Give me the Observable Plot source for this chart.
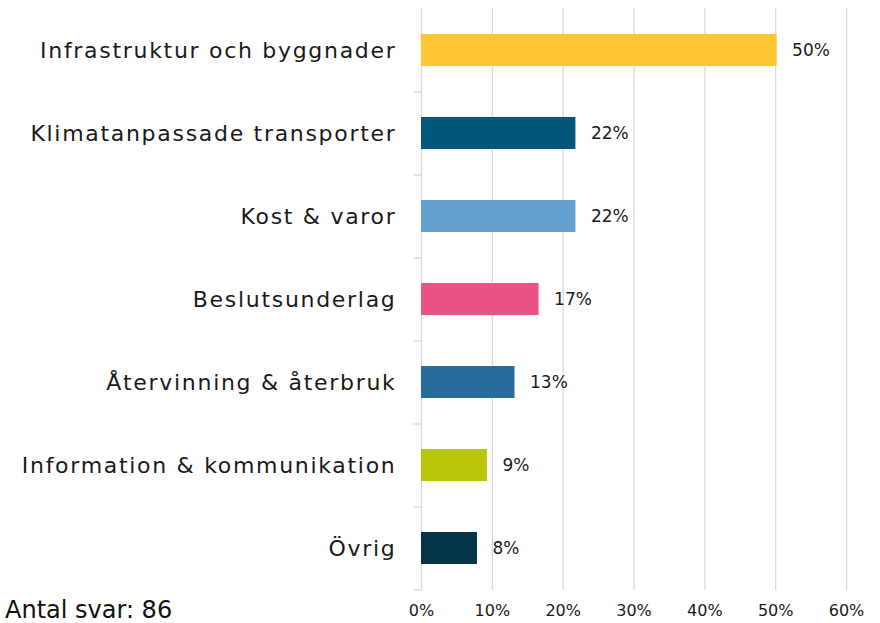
<!DOCTYPE html>
<html>
<head>
<meta charset="utf-8">
<script src="https://cdn.jsdelivr.net/npm/d3@7"></script>
<script src="https://cdn.jsdelivr.net/npm/@observablehq/plot@0.6"></script>
<style>
  html, body { margin: 0; padding: 0; background: #fff; }
  #wrap { position: relative; width: 880px; height: 623px; }
  #caption { position: absolute; left: 5px; top: 596px; font-family: "DejaVu Sans", sans-serif; font-size: 24px; color: #111; }
</style>
</head>
<body>
<div id="wrap">
  <div id="chart"></div>
  <div id="caption">Antal svar: 86</div>
</div>
<script>
const categories = [
  "Infrastruktur och byggnader",
  "Klimatanpassade transporter",
  "Kost & varor",
  "Beslutsunderlag",
  "Återvinning & återbruk",
  "Information & kommunikation",
  "Övrig"
];
const values = [50.2, 21.8, 21.8, 16.6, 13.2, 9.3, 7.9];
const labels = ["50%", "22%", "22%", "17%", "13%", "9%", "8%"];
const colors = ["#FDC52F", "#035779", "#64A1D0", "#E95282", "#276D9C", "#B9C507", "#04334A"];
const xTicks = [0, 10, 20, 30, 40, 50, 60];

const data = categories.map((c, i) => ({ cat: c, value: values[i], label: labels[i], color: colors[i] }));

const font = "'DejaVu Sans', sans-serif";

const chart = Plot.plot({
  width: 880,
  height: 623,
  marginLeft: 421,
  marginRight: 34,
  marginTop: 8,
  marginBottom: 33,
  style: { fontFamily: font, color: "#1a1a1a", background: "#fff" },
  x: { domain: [0, 60], ticks: xTicks, tickFormat: d => d + "%", label: null },
  y: { domain: categories, paddingInner: 0.615, paddingOuter: 0.3075, align: 0.5, label: null },
  marks: [
    Plot.gridX(xTicks, { stroke: "#d9d9d9", strokeOpacity: 1, strokeWidth: 1.3 }),
    Plot.link(categories, { x1: -1.13, x2: 0, y1: d => d, y2: d => d, dy: 41.5, stroke: "#d9d9d9", strokeWidth: 1.3 }),
    Plot.barX(data, { y: "cat", x: "value", fill: "color" }),
    Plot.text(data, { y: "cat", x: "value", text: "label", textAnchor: "start", dx: 15, fontSize: 17, fill: "#1a1a1a" }),
    Plot.axisX({ ticks: xTicks, tickFormat: d => d + "%", tickSize: 0, tickPadding: 14, fontSize: 16, label: null }),
    Plot.axisY({ tickSize: 0, tickPadding: 25, fontSize: 22, label: null })
  ]
});
chart.querySelectorAll("g[aria-label='y-axis tick label'] text").forEach(t => t.setAttribute("letter-spacing", "1.7"));
document.getElementById("chart").appendChild(chart);
</script>
</body>
</html>
